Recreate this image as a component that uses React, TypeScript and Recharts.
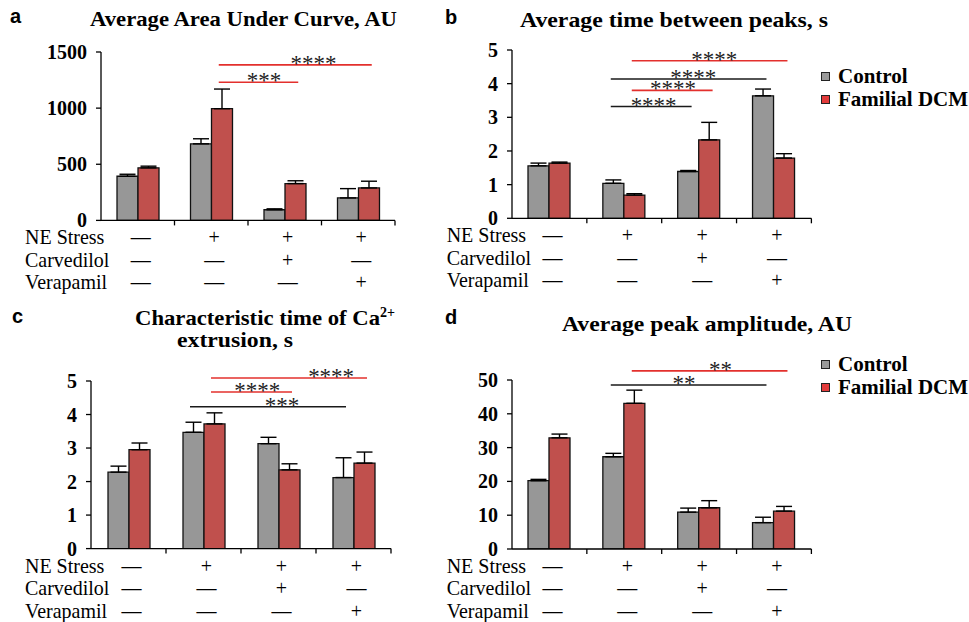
import React from "react"
import { Bar, BarChart, ErrorBar, Legend, ReferenceLine, XAxis, YAxis } from "recharts"

const SERIF = "'Liberation Serif', 'Times New Roman', serif"
const SANS = "'Liberation Sans', Arial, sans-serif"

// conditions (x categories)
const groups = ["Baseline", "NE", "NE + Carvedilol", "NE + Verapamil"]
const conditionRows = ["NE Stress", "Carvedilol", "Verapamil"]
const neStress = [false, true, true, true]
const carvedilol = [false, false, true, false]
const verapamil = [false, false, false, true]

const seriesNames = ["Control", "Familial DCM"]
const barFills = ["#979797", "#c0504d"]
const legendFills = ["#9a9a9a", "#e23b3b"]
const sigColors = ["#1a1a1a", "#e3302d"]

// a: area under curve
const aucControl = [393, 682, 95, 200]
const aucControlErr = [18, 45, 8, 83]
const aucDcm = [468, 995, 328, 289]
const aucDcmErr = [15, 175, 25, 60]
const aucTicks = [0, 500, 1000, 1500]

// b: time between peaks
const peakTimeControl = [1.56, 1.04, 1.39, 3.64]
const peakTimeControlErr = [0.08, 0.1, 0.03, 0.2]
const peakTimeDcm = [1.64, 0.69, 2.33, 1.79]
const peakTimeDcmErr = [0.03, 0.04, 0.52, 0.13]
const peakTimeTicks = [0, 1, 2, 3, 4, 5]

// c: Ca2+ extrusion time
const extrusionControl = [2.28, 3.47, 3.13, 2.12]
const extrusionControlErr = [0.18, 0.3, 0.19, 0.59]
const extrusionDcm = [2.95, 3.72, 2.35, 2.55]
const extrusionDcmErr = [0.2, 0.33, 0.18, 0.33]
const extrusionTicks = [0, 1, 2, 3, 4, 5]

// d: peak amplitude
const amplitudeControl = [20.2, 27.3, 10.9, 7.8]
const amplitudeControlErr = [0.4, 1.0, 1.2, 1.6]
const amplitudeDcm = [32.9, 43.1, 12.2, 11.2]
const amplitudeDcmErr = [1.1, 3.9, 2.1, 1.4]
const amplitudeTicks = [0, 10, 20, 30, 40, 50]

// significance brackets: series 0 = Control, 1 = Familial DCM
type Sig = { series: number; from: number; to: number; y: number; stars: string; at: number }
const aucSig: Sig[] = [
  { series: 1, from: 1, to: 3, y: 1385, stars: "****", at: 0.62 },
  { series: 1, from: 1, to: 2, y: 1230, stars: "***", at: 0.57 },
]
const peakTimeSig: Sig[] = [
  { series: 1, from: 1, to: 3, y: 4.68, stars: "****", at: 0.53 },
  { series: 0, from: 1, to: 3, y: 4.14, stars: "****", at: 0.53 },
  { series: 1, from: 1, to: 2, y: 3.8, stars: "****", at: 0.51 },
  { series: 0, from: 1, to: 2, y: 3.32, stars: "****", at: 0.53 },
]
const extrusionSig: Sig[] = [
  { series: 1, from: 1, to: 3, y: 5.09, stars: "****", at: 0.77 },
  { series: 1, from: 1, to: 2, y: 4.67, stars: "****", at: 0.57 },
  { series: 0, from: 1, to: 3, y: 4.23, stars: "***", at: 0.59 },
]
const amplitudeSig: Sig[] = [
  { series: 1, from: 1, to: 3, y: 52.7, stars: "**", at: 0.57 },
  { series: 0, from: 1, to: 3, y: 48.5, stars: "**", at: 0.47 },
]

const BAR = 21
const AXIS_W = 100
const TOP_PAD = 40
const X_H = 80

function CondTick(props: any) {
  const { x, y, index, band, labelX } = props
  const rows = [neStress, carvedilol, verapamil]
  return (
    <g>
      <line x1={x + band / 2} x2={x + band / 2} y1={y} y2={y + 5} stroke="#000" strokeWidth={1.3} />
      {rows.map((r, k) => (
        <text key={k} x={x + 3} y={y + 24 + k * 22.5} textAnchor="middle" fontFamily={SERIF} fontSize={20} fill="#000">
          {r[index] ? "+" : "—"}
        </text>
      ))}
      {index === 0 &&
        conditionRows.map((name, k) => (
          <text key={"l" + k} x={labelX} y={y + 24 + k * 22.5} fontFamily={SERIF} fontSize={20} fill="#000">
            {name}
          </text>
        ))}
    </g>
  )
}

function SigShape(props: any) {
  const { x1, x2, y1, sig } = props
  const dx = sig.series === 0 ? -BAR / 2 : BAR / 2
  const a = x1 + dx - 3
  const b = x2 + dx + 3
  const color = sigColors[sig.series]
  return (
    <g>
      <line x1={a} x2={b} y1={y1} y2={y1} stroke={color} strokeWidth={1.6} />
      <text x={a + (b - a) * sig.at} y={y1 + 6} textAnchor="middle" fontFamily={SERIF} fontSize={23} fill="#222">
        {sig.stars}
      </text>
    </g>
  )
}

function LegendBox({ payload }: any) {
  return (
    <div style={{ fontFamily: SERIF, fontWeight: "bold", fontSize: 21, lineHeight: "23px", color: "#000" }}>
      {(payload || []).map((e: any, i: number) => (
        <div key={i} style={{ display: "flex", alignItems: "center", whiteSpace: "nowrap" }}>
          <span style={{ display: "inline-block", width: 7, height: 7, border: "1.5px solid #222", background: legendFills[i], marginRight: 8 }} />
          {e.value}
        </div>
      ))}
    </div>
  )
}

type PanelProps = {
  control: number[]
  controlErr: number[]
  dcm: number[]
  dcmErr: number[]
  ticks: number[]
  sigs: Sig[]
  box: { x: number; y: number; w: number; h: number }
  labelX: number
  rightPad: number
  legend?: { x: number; y: number }
}

function Panel(p: PanelProps) {
  const data = groups.map((g, i) => ({
    group: g,
    control: p.control[i],
    controlErr: [0, p.controlErr[i]],
    dcm: p.dcm[i],
    dcmErr: [0, p.dcmErr[i]],
  }))
  const left = p.box.x - AXIS_W
  const top = p.box.y - TOP_PAD
  const width = AXIS_W + p.box.w + p.rightPad
  const height = TOP_PAD + p.box.h + X_H
  const band = p.box.w / groups.length
  const max = p.ticks[p.ticks.length - 1]

  return (
    <div style={{ position: "absolute", left, top }}>
      <BarChart width={width} height={height} data={data} margin={{ top: TOP_PAD, right: p.rightPad, bottom: 0, left: 0 }} barGap={0} barSize={BAR}>
        <XAxis
          dataKey="group"
          interval={0}
          height={X_H}
          tickSize={0}
          tickMargin={0}
          tickLine={false}
          axisLine={{ stroke: "#000", strokeWidth: 1.3 }}
          tick={(t: any) => <CondTick {...t} band={band} labelX={p.labelX - left} />}
        />
        <YAxis
          type="number"
          width={AXIS_W}
          domain={[0, max]}
          ticks={p.ticks}
          interval={0}
          allowDataOverflow
          tickSize={5}
          tickMargin={9}
          axisLine={{ stroke: "#000", strokeWidth: 1.3 }}
          tickLine={{ stroke: "#000", strokeWidth: 1.3 }}
          tick={{ fill: "#000", fontFamily: SERIF, fontWeight: "bold", fontSize: 20 }}
        />
        <Bar dataKey="control" name={seriesNames[0]} fill={barFills[0]} stroke="#111" strokeWidth={1.3} isAnimationActive={false}>
          <ErrorBar dataKey="controlErr" width={8} stroke="#000" strokeWidth={1.4} direction="y" />
        </Bar>
        <Bar dataKey="dcm" name={seriesNames[1]} fill={barFills[1]} stroke="#111" strokeWidth={1.3} isAnimationActive={false}>
          <ErrorBar dataKey="dcmErr" width={8} stroke="#000" strokeWidth={1.4} direction="y" />
        </Bar>
        {p.sigs.map((s, i) => (
          <ReferenceLine
            key={i}
            ifOverflow="visible"
            segment={[
              { x: groups[s.from], y: s.y },
              { x: groups[s.to], y: s.y },
            ]}
            shape={(sp: any) => <SigShape {...sp} sig={s} />}
          />
        ))}
        {p.legend && (
          <Legend
            layout="vertical"
            align="center"
            verticalAlign="middle"
            wrapperStyle={{ left: p.legend.x - left, top: p.legend.y - top, width: 150, height: "auto" }}
            content={LegendBox}
          />
        )}
      </BarChart>
    </div>
  )
}

const titleStyle = { fontFamily: SERIF, fontWeight: "bold", fontSize: 22, fill: "#000", lengthAdjust: "spacingAndGlyphs" } as const
const letterStyle = { fontFamily: SANS, fontWeight: "bold", fontSize: 20, fill: "#000" } as const

export default function App() {
  return (
    <div style={{ position: "absolute", left: 0, top: 0, width: 969, height: 622, background: "#fff", overflow: "hidden" }}>
      <Panel
        control={aucControl}
        controlErr={aucControlErr}
        dcm={aucDcm}
        dcmErr={aucDcmErr}
        ticks={aucTicks}
        sigs={aucSig}
        box={{ x: 101, y: 52.3, w: 294, h: 168.4 }}
        labelX={25}
        rightPad={10}
      />
      <Panel
        control={peakTimeControl}
        controlErr={peakTimeControlErr}
        dcm={peakTimeDcm}
        dcmErr={peakTimeDcmErr}
        ticks={peakTimeTicks}
        sigs={peakTimeSig}
        box={{ x: 512.3, y: 50, w: 299.4, h: 168.3 }}
        labelX={447}
        rightPad={160}
        legend={{ x: 821, y: 64.7 }}
      />
      <Panel
        control={extrusionControl}
        controlErr={extrusionControlErr}
        dcm={extrusionDcm}
        dcmErr={extrusionDcmErr}
        ticks={extrusionTicks}
        sigs={extrusionSig}
        box={{ x: 91, y: 380.7, w: 300, h: 167.6 }}
        labelX={25}
        rightPad={10}
      />
      <Panel
        control={amplitudeControl}
        controlErr={amplitudeControlErr}
        dcm={amplitudeDcm}
        dcmErr={amplitudeDcmErr}
        ticks={amplitudeTicks}
        sigs={amplitudeSig}
        box={{ x: 512.3, y: 380, w: 299.4, h: 169 }}
        labelX={447}
        rightPad={160}
        legend={{ x: 821, y: 352.7 }}
      />
      <svg width={969} height={622} style={{ position: "absolute", left: 0, top: 0, pointerEvents: "none" }}>
        <text x={10} y={23} {...letterStyle}>a</text>
        <text x={445} y={24} {...letterStyle}>b</text>
        <text x={12} y={323} {...letterStyle}>c</text>
        <text x={445} y={324} {...letterStyle}>d</text>
        <text x={90} y={26} textLength={307} {...titleStyle}>Average Area Under Curve, AU</text>
        <text x={520} y={27} textLength={308} {...titleStyle}>Average time between peaks, s</text>
        <text x={135} y={325} {...titleStyle}>
          <tspan textLength={245} lengthAdjust="spacingAndGlyphs">Characteristic time of Ca</tspan>
          <tspan fontSize={14} dy={-8}>2+</tspan>
        </text>
        <text x={177} y={347} textLength={116} {...titleStyle}>extrusion, s</text>
        <text x={562} y={331} textLength={290} {...titleStyle}>Average peak amplitude, AU</text>
      </svg>
    </div>
  )
}
